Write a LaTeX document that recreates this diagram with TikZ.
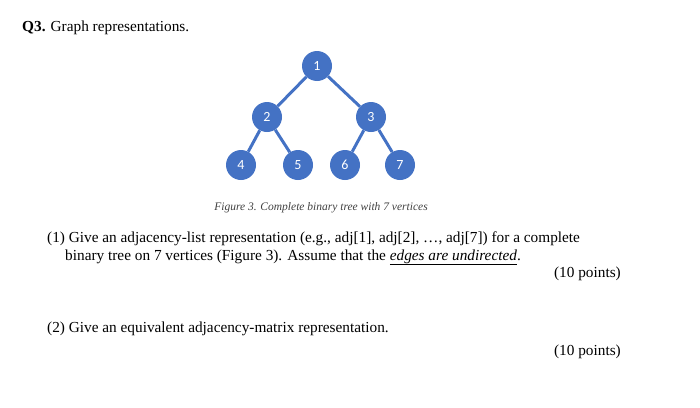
\documentclass[tikz,border=0pt]{standalone}
\usepackage{fontspec}
\setmainfont{Liberation Serif}
\newfontfamily\carlitofont{Carlito}
\begin{document}
\begin{tikzpicture}[x=1pt,y=-1pt,
  vtx/.style={circle,fill=nodeblue,minimum size=30pt,inner sep=0pt,text=white,font=\carlitofont\fontsize{14}{14}\selectfont},
  edge/.style={draw=nodeblue,line width=3pt},
  txt/.style={anchor=base west,inner sep=0pt,font=\fontsize{15.3}{17}\selectfont}]
\definecolor{nodeblue}{HTML}{4472C4}
\useasboundingbox (0,0) rectangle (700,407);
\node[vtx] (n1) at (317,66) {1};
\node[vtx] (n2) at (267,117) {2};
\node[vtx] (n3) at (371,117) {3};
\node[vtx] (n4) at (241,165) {4};
\node[vtx] (n5) at (298,165) {5};
\node[vtx] (n6) at (345,165) {6};
\node[vtx] (n7) at (400,165) {7};
\path[edge] (n1) -- (n2) (n1) -- (n3) (n2) -- (n4) (n2) -- (n5) (n3) -- (n6) (n3) -- (n7);
\node[txt] (q) at (22,31) {\textbf{Q3.} Graph representations.};
\node[anchor=base,inner sep=0pt,font=\itshape\fontsize{11.5}{12}\selectfont,text=black!75] (cap) at (321,210) {Figure 3. Complete binary tree with 7 vertices};
\node[txt] (p1) at (47,242) {(1) Give an adjacency-list representation (e.g., adj[1], adj[2], \dots, adj[7]) for a complete};
\node[txt] (p1b) at (65,260) {binary tree on 7 vertices (Figure 3). Assume that the \underline{\textit{edges are undirected}}.};
\node[txt,anchor=base east] (pt1) at (621,277) {(10 points)};
\node[txt] (p2) at (47,332) {(2) Give an equivalent adjacency-matrix representation.};
\node[txt,anchor=base east] (pt2) at (621,355) {(10 points)};
\end{tikzpicture}
\end{document}
